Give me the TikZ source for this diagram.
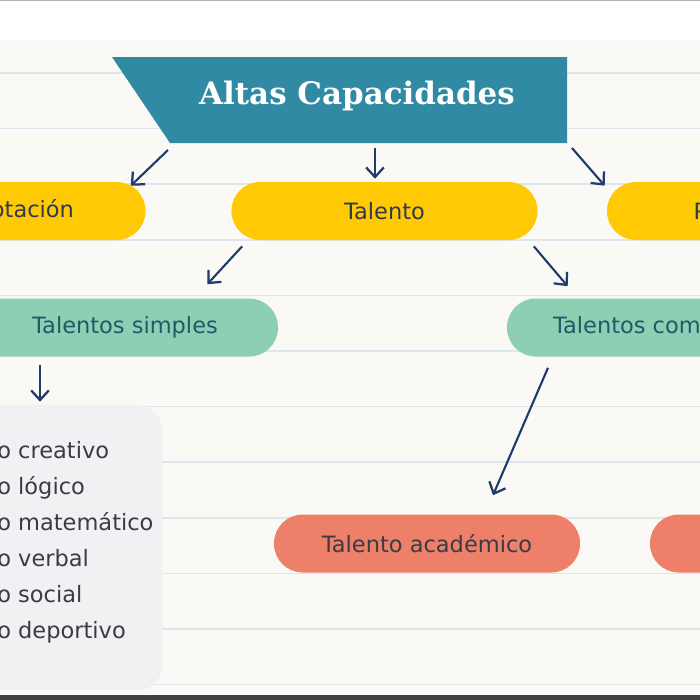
\documentclass[tikz,border=0pt]{standalone}
\usepackage{fontspec}
\setmainfont{DejaVu Sans}
\newfontfamily\titlefont{DejaVu Serif}
\usetikzlibrary{arrows.meta}
\definecolor{fondo}{HTML}{FBF9F5}
\definecolor{raya}{HTML}{DDE6ED}
\definecolor{azulT}{HTML}{318AA3}
\definecolor{amarillo}{HTML}{FFCA05}
\definecolor{verde}{HTML}{8DCFB3}
\definecolor{coral}{HTML}{EE806A}
\definecolor{gris}{HTML}{F1F1F3}
\definecolor{marino}{HTML}{1E3B6C}
\definecolor{textoA}{HTML}{2F3B4C}
\definecolor{textoV}{HTML}{1F5A6A}
\definecolor{textoG}{HTML}{3B3B45}

\begin{document}
\begin{tikzpicture}[x=0.025cm, y=-0.025cm,
	pill/.style={rounded corners=0.72cm, minimum width=7.65cm, minimum height=1.45cm, inner sep=0pt, font=\fontsize{16}{18}\selectfont},
	item/.style={inner sep=0pt, text=textoG, font=\fontsize{16}{18}\selectfont},
	flecha/.style={draw=marino, line width=1.5pt, -{Straight Barb[length=2.4mm,width=4.4mm,line width=1.6pt]}}]
	\useasboundingbox (0,0) rectangle (700,700);
	\clip (0,0) rectangle (700,700);
	% hoja rayada
	\fill[fondo] (0,0) rectangle (700,700);
	\fill[white] (0,0) rectangle (700,40);
	\draw[gray!60, line width=1.5pt] (0,0) -- (700,0);
	\foreach \k in {0,...,11}
		\draw[raya, line width=1.2pt] (0,73+55.6*\k) -- (700,73+55.6*\k);
	\fill[black!75] (0,695) rectangle (700,700);

	% titulo
	\fill[azulT] (112,57) -- (567,57) -- (567,143) -- (170,143) -- cycle;
	\coordinate (tso) at (170,143);
	\coordinate (tc) at (375,143);
	\coordinate (tse) at (567,143);
	\node[text=white, font=\titlefont\bfseries\fontsize{22}{24}\selectfont] (titulo) at (357,96) {Altas Capacidades};

	% nivel 1
	\node[pill, fill=amarillo, text=textoA] (super) at (-7.5,211) {Superdotación};
	\node[pill, fill=amarillo, text=textoA] (talento) at (384.5,211) {Talento};
	\node[pill, fill=amarillo, text=textoA, minimum width=7.4cm] (preco) at (755,211) {Precocidad};

	% nivel 2
	\node[pill, fill=verde, text=textoV] (simples) at (125,327.5) {Talentos simples};
	\node[pill, fill=verde, text=textoV] (complejos) at (660,327.5) {Talentos complejos};

	% lista
	\node[fill=gris, rounded corners=0.6cm, minimum width=5.55cm, minimum height=7.125cm] (caja) at (51,547.5) {};
	\foreach \t [count=\i] in {creativo, lógico, matemático, verbal, social, deportivo}
		\node[item, anchor=base west] (item\i) at (-3,458+36*\i-36) {\llap{Talent}o \t};

	% nivel 3
	\node[pill, fill=coral, text=textoG] (academico) at (427,543.5) {Talento académico};
	\node[pill, fill=coral] (otro) at (803,543.5) {};

	% flechas
	\draw[flecha] ([shift={(-2,7)}]tso) -- ([shift={(-15,4)}]super.north east);
	\draw[flecha] ([shift={(0,5)}]tc) -- ([shift={(-9.5,-3)}]talento.north);
	\draw[flecha] ([shift={(5,5)}]tse) -- ([shift={(-2,4)}]preco.north west);
	\draw[flecha] ([shift={(11,6)}]talento.south west) -- ([shift={(-71,-14)}]simples.north east);
	\draw[flecha] ([shift={(-4,6)}]talento.south east) -- ([shift={(61,-12)}]complejos.north west);
	\draw[flecha] ([shift={(-85,8)}]simples.south) -- ([shift={(-11,-3)}]caja.north);
	\draw[flecha] ([shift={(-112,11)}]complejos.south) -- ([shift={(66,-19)}]academico.north);
\end{tikzpicture}
\end{document}
